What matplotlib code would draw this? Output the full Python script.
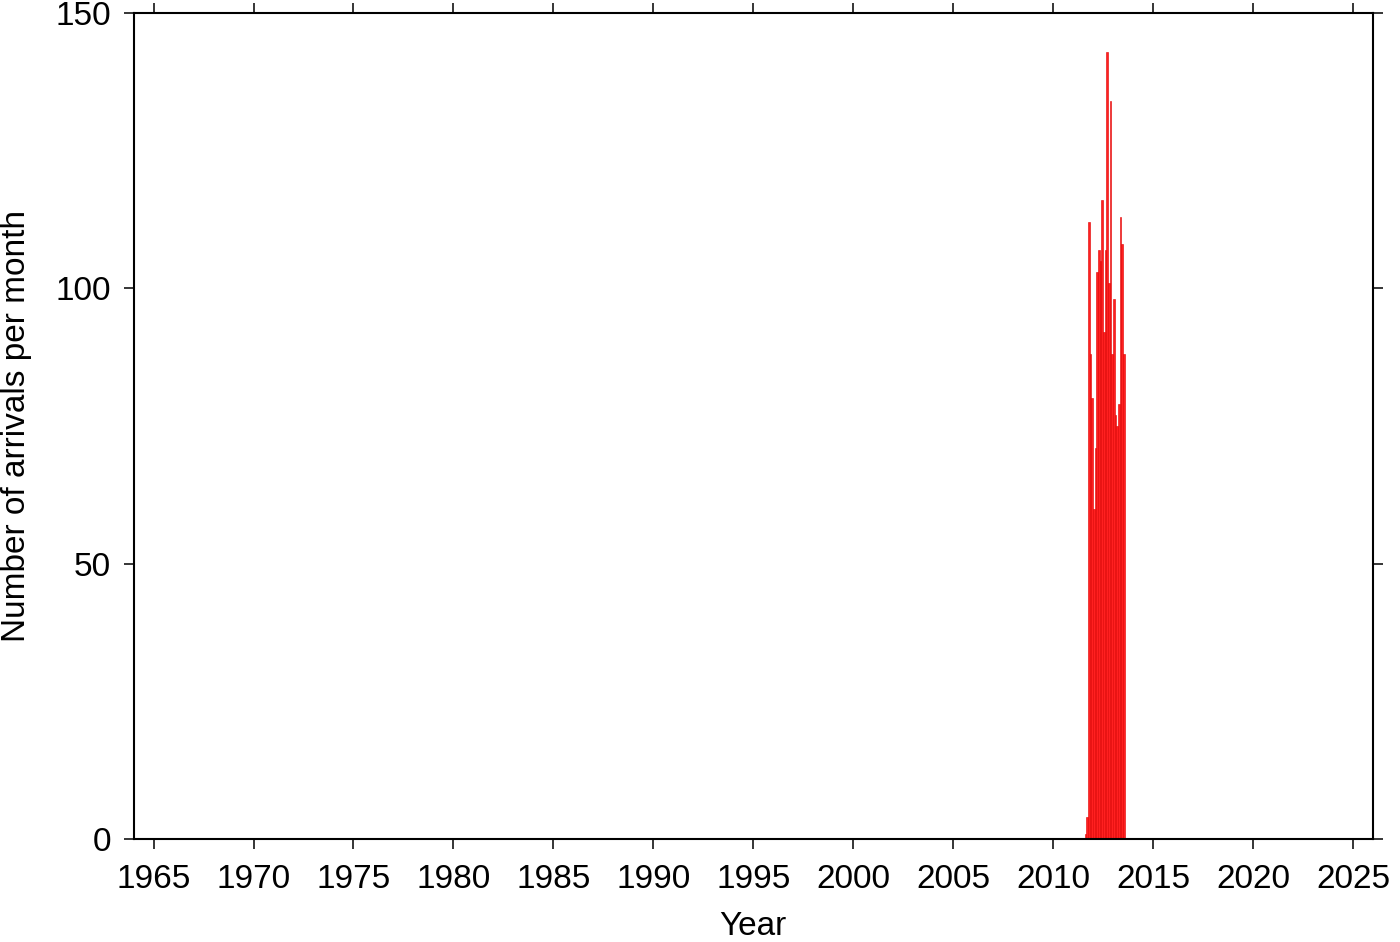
import matplotlib
matplotlib.use('Agg')
import matplotlib.pyplot as plt

# monthly arrival counts, first month is Aug 2011
start_year = 2011
start_month = 8
counts = [1, 4, 112, 88, 80, 60, 71, 103, 107, 105, 116, 92,
          107, 143, 101, 134, 88, 98, 77, 75, 79, 113, 108, 88]

year_ticks = list(range(1965, 2026, 5))
count_ticks = [0, 50, 100, 150]

plt.rcParams['font.family'] = ['Liberation Sans', 'DejaVu Sans']

months = [start_year + (start_month - 1 + i) / 12 for i in range(len(counts))]

fig = plt.figure(figsize=(14, 9.42), dpi=100)
ax = fig.add_axes([0.0954, 0.1093, 0.8853, 0.8769])
ax.bar(months, counts, width=1 / 12, align='edge', color='#ff2020',
       edgecolor='#e00000', linewidth=0.4)

ax.set_xlim(1964, 2026)
ax.set_ylim(0, 150)
ax.set_xticks(year_ticks)
ax.set_yticks(count_ticks)
ax.tick_params(axis='both', direction='out', length=7.2, width=1.1,
               labelsize=24, pad=9, top=True, right=True)
ax.tick_params(axis='x', pad=11)
for s in ax.spines.values():
    s.set_linewidth(1.5)

ax.set_xlabel('Year', fontsize=24, labelpad=11)
ax.set_ylabel('Number of arrivals per month', fontsize=24, labelpad=17)

fig.savefig('out.png', dpi=100)
